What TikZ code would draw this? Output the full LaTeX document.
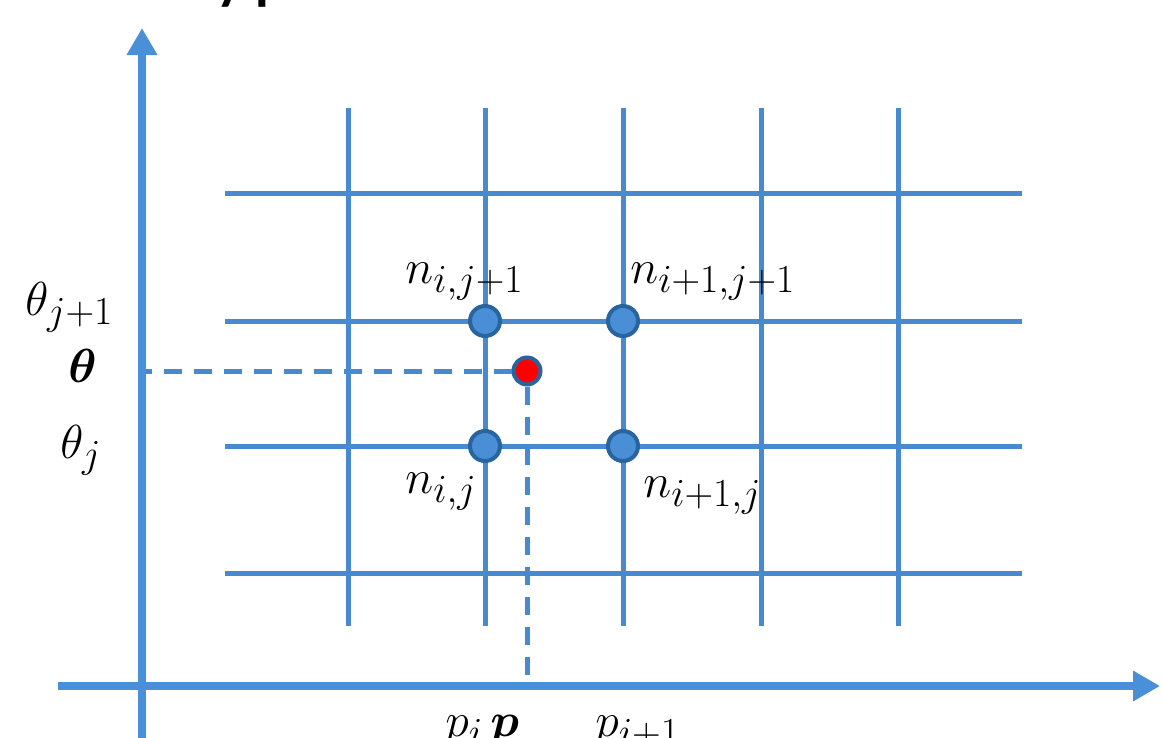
\documentclass[tikz,border=0pt]{standalone}
\usepackage{fontspec}
\usepackage{bm}
\DeclareMathSizes{20.74}{20.74}{17.28}{14.4}
\newfontfamily\titlefont{Carlito}
\usetikzlibrary{arrows.meta}
\definecolor{axisblue}{RGB}{74,144,217}
\definecolor{gridblue}{RGB}{72,138,208}
\definecolor{nodeedge}{RGB}{40,100,160}
\definecolor{nodefill}{RGB}{74,142,214}
\begin{document}
\begin{tikzpicture}[x=1pt,y=-1pt,
  axis/.style={draw=axisblue,line width=8pt,-{Triangle[width=29pt,length=27pt]}},
  gridline/.style={draw=gridblue,line width=5pt},
  gridpt/.style={circle,draw=nodeedge,fill=nodefill,line width=4pt,minimum size=30pt,inner sep=0pt},
  target/.style={circle,draw=nodeedge,fill=red,line width=4pt,minimum size=27pt,inner sep=0pt},
  guide/.style={draw=gridblue,line width=5pt,dash pattern=on 18pt off 12pt},
  lab/.style={font=\fontsize{20.74}{25}\selectfont,inner sep=0pt,anchor=base west,scale=2.3,transform shape},
  titletext/.style={font=\titlefont\bfseries\fontsize{56}{60}\selectfont,inner sep=0pt,anchor=base west}
]
\clip (0,0) rectangle (1163,737);
% title (cut off at top)
\node[titletext] (title) at (216,-2) {y p};
% axes
\coordinate (yb) at (142,745);
\coordinate (yt) at (142,28);
\coordinate (xl) at (58,686);
\coordinate (xr) at (1160,686);
\draw[axis] (yb) -- (yt);
\draw[axis] (xl) -- (xr);
% grid
\foreach \y in {193,321,446,573} \draw[gridline] (225,\y) -- (1022,\y);
\foreach \x in {348,485,623,761,898} \draw[gridline] (\x,108) -- (\x,626);
% grid nodes
\node[gridpt] (n11) at (485,321) {};
\node[gridpt] (n21) at (623,321) {};
\node[gridpt] (n10) at (485,446) {};
\node[gridpt] (n20) at (623,446) {};
% target point
\node[target] (P) at (527,371) {};
\coordinate (Pt) at (146,371);
\coordinate (Pp) at (527,686);
\draw[guide] (P.west) -- (Pt);
\draw[guide] (P.south) -- (Pp);
% node labels
\node[lab] (l11) at (405,283) {$n_{i,j+1}$};
\node[lab] (l21) at (630,283) {$n_{i+1,j+1}$};
\node[lab] (l10) at (405,493) {$n_{i,j}$};
\node[lab] (l20) at (643,497) {$n_{i+1,j}$};
% theta labels
\node[lab] (t1) at (25,315) {$\theta_{j+1}$};
\node[lab] (t) at (68,382) {$\bm{\theta}$};
\node[lab] (t0) at (60,458) {$\theta_j$};
% p labels
\node[lab] (p0) at (445,736) {$p_i$};
\node[lab] (p) at (490,736) {$\bm{p}$};
\node[lab] (p1) at (595,736) {$p_{i+1}$};
\end{tikzpicture}
\end{document}
